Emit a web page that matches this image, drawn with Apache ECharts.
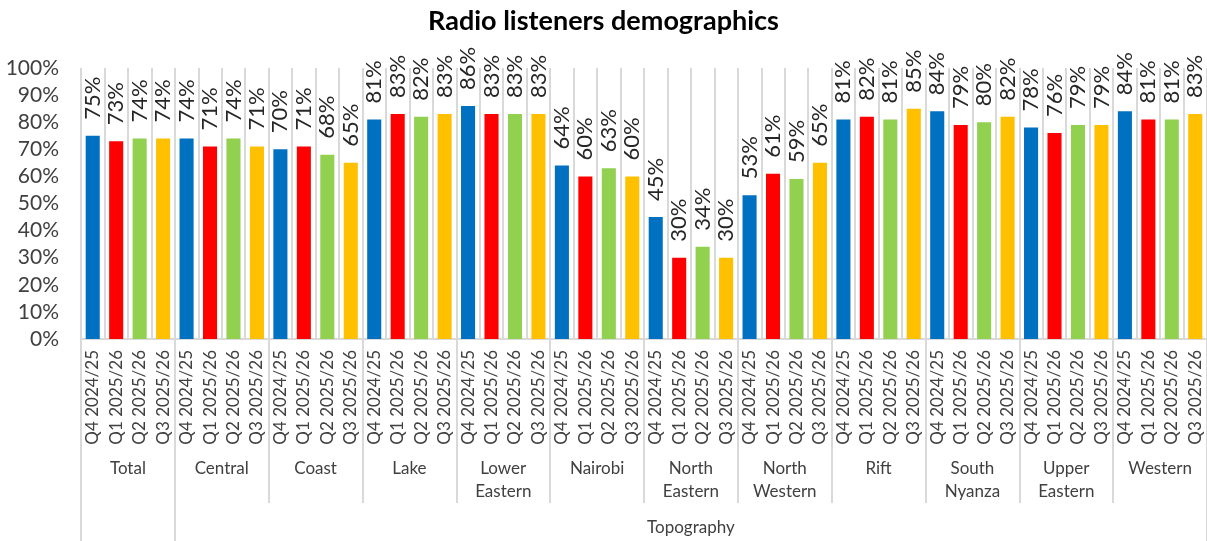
<!DOCTYPE html>
<html>
<head>
<meta charset="utf-8">
<script src="https://cdn.jsdelivr.net/npm/echarts@6/dist/echarts.min.js"></script>
<style>
  html, body { margin: 0; padding: 0; background: #fff; }
  #chart { width: 1207px; height: 541px; }
</style>
</head>
<body>
<div id="chart"></div>
<script>
// Survey periods (one bar per period inside each region)
const quarters = ['Q4 2024/25', 'Q1 2025/26', 'Q2 2025/26', 'Q3 2025/26'];
// Regions (second label row)
const regions = ['Total', 'Central', 'Coast', 'Lake', 'Lower\nEastern', 'Nairobi',
  'North\nEastern', 'North\nWestern', 'Rift', 'South\nNyanza', 'Upper\nEastern', 'Western'];
// Share of radio listeners (%), per period, in region order
const q4_2024_25 = [75, 74, 70, 81, 86, 64, 45, 53, 81, 84, 78, 84];
const q1_2025_26 = [73, 71, 71, 83, 83, 60, 30, 61, 82, 79, 76, 81];
const q2_2025_26 = [74, 74, 68, 82, 83, 63, 34, 59, 81, 80, 79, 81];
const q3_2025_26 = [74, 71, 65, 83, 83, 60, 30, 65, 85, 82, 79, 83];
// Top label row: Total stands alone, every other region falls under Topography
const topLevel = ['', 'Topography'];
// Y axis ticks
const yMin = 0, yMax = 100, yStep = 10;

const periodValues = [q4_2024_25, q1_2025_26, q2_2025_26, q3_2025_26];
const periodColors = ['#0070C0', '#FF0000', '#92D050', '#FFC000'];

const categories = [];
const barData = [];
regions.forEach((r, ri) => {
  quarters.forEach((q, qi) => {
    categories.push(q);
    barData.push({ value: periodValues[qi][ri], itemStyle: { color: periodColors[qi] } });
  });
});

// Top row: one slot per region, the label sits in the middle of the Topography span
const topRow = regions.map(() => '');
topRow[Math.floor((1 + regions.length) / 2)] = topLevel[1];

const FONT = 'Lato, "Open Sans", sans-serif';
const GRID_LINE = '#D9D9D9';
const TEXT = '#404040';

const chart = echarts.init(document.getElementById('chart'), null, { renderer: 'canvas' });
chart.setOption({
  animation: false,
  backgroundColor: '#fff',
  title: {
    text: 'Radio listeners demographics',
    left: 'center',
    top: 3,
    textStyle: { fontFamily: FONT, fontSize: 27, fontWeight: 'bold', color: '#000' }
  },
  grid: { left: 81, right: 0, top: 68, bottom: 202, containLabel: false, outerBoundsMode: 'none' },
  xAxis: [
    {
      type: 'category',
      data: categories,
      position: 'bottom',
      axisLine: { show: true, lineStyle: { color: GRID_LINE, width: 2 } },
      axisTick: { show: false },
      splitLine: { show: true, interval: 0, lineStyle: { color: GRID_LINE, width: 2 } },
      axisLabel: { interval: 0, rotate: 90, margin: 11, fontFamily: FONT, fontSize: 17, color: TEXT }
    },
    {
      type: 'category',
      data: regions,
      position: 'bottom',
      axisLine: { show: false },
      axisTick: { show: true, interval: 0, length: 164, lineStyle: { color: GRID_LINE, width: 2 } },
      splitLine: { show: false },
      axisLabel: { interval: 0, margin: 118, fontFamily: FONT, fontSize: 17, lineHeight: 23, color: TEXT }
    },
    {
      type: 'category',
      data: topRow,
      position: 'bottom',
      axisLine: { show: false },
      axisTick: {
        show: true,
        interval: (i) => i === 0 || i === 1,
        length: 210,
        lineStyle: { color: GRID_LINE, width: 2 }
      },
      splitLine: { show: false },
      axisLabel: { interval: 0, margin: 180, fontFamily: FONT, fontSize: 17, color: TEXT }
    }
  ],
  yAxis: {
    type: 'value',
    min: yMin,
    max: yMax,
    interval: yStep,
    axisLine: { show: false },
    axisTick: { show: false },
    splitLine: { show: false },
    axisLabel: { formatter: '{value}%', margin: 22, fontFamily: FONT, fontSize: 21, color: TEXT }
  },
  series: [{
    type: 'bar',
    xAxisIndex: 0,
    data: barData,
    barCategoryGap: '40%',
    label: {
      show: true,
      position: 'top',
      rotate: 90,
      align: 'left',
      verticalAlign: 'middle',
      distance: 16,
      formatter: (p) => p.value + '%',
      fontFamily: FONT,
      fontSize: 22,
      color: '#262626'
    }
  }]
});
</script>
</body>
</html>
